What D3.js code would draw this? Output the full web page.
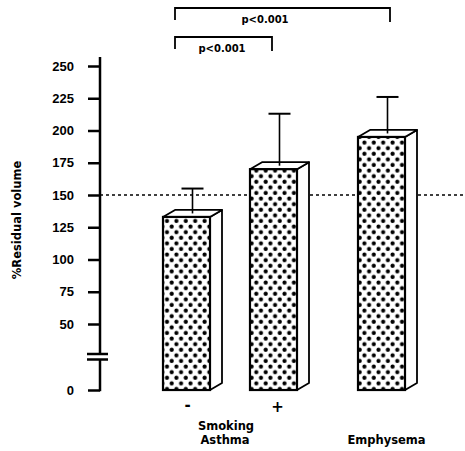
<!DOCTYPE html>
<html>
<head>
<meta charset="utf-8">
<script src="https://cdn.jsdelivr.net/npm/d3@7"></script>
<style>
  body { margin: 0; background: #fff; }
  svg { font-family: "DejaVu Sans", sans-serif; }
</style>
</head>
<body>
<div id="chart"></div>
<script>
var groups = ["-", "+", "Emphysema"];
var means = [133, 170, 195];
var upper = [155, 213, 226];
var yTicks = [0, 50, 75, 100, 125, 150, 175, 200, 225, 250];
var normalLine = 150;
var brackets = [
  { from: "-", to: "Emphysema", label: "p<0.001" },
  { from: "-", to: "+", label: "p<0.001" }
];

var width = 465, height = 451;

var svg = d3.select("#chart").append("svg")
    .attr("width", width)
    .attr("height", height);

var defs = svg.append("defs");
var pat = defs.append("pattern")
    .attr("id", "dots")
    .attr("patternUnits", "userSpaceOnUse")
    .attr("width", 9.4)
    .attr("height", 11.2);
pat.append("rect").attr("width", 9.4).attr("height", 11.2).attr("fill", "#fff");
pat.append("circle").attr("cx", 2.5).attr("cy", 2.5).attr("r", 2.1).attr("fill", "#000");
pat.append("circle").attr("cx", 7.2).attr("cy", 8.1).attr("r", 2.1).attr("fill", "#000");

// broken axis: 0..50 compressed
var y = d3.scaleLinear()
    .domain([0, 50, 250])
    .range([390, 324, 66]);

var x = d3.scaleOrdinal()
    .domain(groups)
    .range([163, 250, 358]);

var barW = 47, dx = 12, dy = -7;
var axisX = 100;

// dashed reference line
svg.append("line")
    .attr("x1", axisX).attr("x2", width)
    .attr("y1", y(normalLine)).attr("y2", y(normalLine))
    .attr("stroke", "#000")
    .attr("stroke-width", 1.3)
    .attr("stroke-dasharray", "3,3");

// y axis
var yAxis = d3.axisLeft(y)
    .tickValues(yTicks)
    .tickSize(12)
    .tickPadding(14);

var ga = svg.append("g")
    .attr("transform", "translate(" + axisX + ",0)")
    .call(yAxis);
ga.select(".domain").remove();
ga.selectAll(".tick line").attr("stroke", "#000").attr("stroke-width", 2.5);
ga.selectAll(".tick text")
    .attr("fill", "#000")
    .style("font-size", "13px")
    .style("font-weight", "bold");

var breakTop = 354, breakBot = 359.5;
ga.append("line")
    .attr("x1", 0).attr("x2", 0)
    .attr("y1", 57).attr("y2", breakTop)
    .attr("stroke", "#000").attr("stroke-width", 2.5);
ga.append("line")
    .attr("x1", 0).attr("x2", 0)
    .attr("y1", breakBot).attr("y2", y(0) + 1.2)
    .attr("stroke", "#000").attr("stroke-width", 2.5);
[breakTop, breakBot].forEach(function (b) {
  ga.append("line")
      .attr("x1", -13).attr("x2", 8)
      .attr("y1", b).attr("y2", b)
      .attr("stroke", "#000").attr("stroke-width", 2.5);
});

svg.append("text")
    .attr("transform", "translate(21,220) rotate(-90)")
    .attr("text-anchor", "middle")
    .style("font-size", "11.5px")
    .style("font-weight", "bold")
    .text("%Residual volume");

// bars
var bars = svg.selectAll("g.bar")
    .data(groups)
    .enter()
    .append("g")
    .attr("class", "bar");

bars.each(function (d, i) {
  var g = d3.select(this);
  var x0 = x(d), yt = y(means[i]), yb = y(0);

  // side face
  g.append("path")
      .attr("d", "M" + (x0 + barW) + "," + yt +
        "L" + (x0 + barW + dx) + "," + (yt + dy) +
        "L" + (x0 + barW + dx) + "," + (yb + dy) +
        "L" + (x0 + barW) + "," + yb + "Z")
      .attr("fill", "#fff").attr("stroke", "#000").attr("stroke-width", 1.8)
      .attr("stroke-linejoin", "round");
  // top face
  g.append("path")
      .attr("d", "M" + x0 + "," + yt +
        "L" + (x0 + dx) + "," + (yt + dy) +
        "L" + (x0 + barW + dx) + "," + (yt + dy) +
        "L" + (x0 + barW) + "," + yt + "Z")
      .attr("fill", "#fff").attr("stroke", "#000").attr("stroke-width", 1.8)
      .attr("stroke-linejoin", "round");
  // front face
  g.append("rect")
      .attr("x", x0).attr("y", yt)
      .attr("width", barW).attr("height", yb - yt)
      .attr("fill", "url(#dots)")
      .attr("stroke", "#000").attr("stroke-width", 2.2);

  // error bar from top face centre
  var cx = x0 + barW / 2 + dx / 2;
  var ye = y(upper[i]);
  g.append("line")
      .attr("x1", cx).attr("x2", cx)
      .attr("y1", yt + dy / 2).attr("y2", ye)
      .attr("stroke", "#000").attr("stroke-width", 1.6);
  g.append("line")
      .attr("x1", cx - 11).attr("x2", cx + 11)
      .attr("y1", ye).attr("y2", ye)
      .attr("stroke", "#000").attr("stroke-width", 2);
});

// category labels
svg.append("text").attr("x", x("-") + barW / 2 + 1).attr("y", 410)
    .attr("text-anchor", "middle").style("font-size", "15px").style("font-weight", "bold").text("-");
svg.append("text").attr("x", x("+") + barW / 2 + 4).attr("y", 412)
    .attr("text-anchor", "middle").style("font-size", "15px").style("font-weight", "bold").text("+");
svg.append("text").attr("x", 226).attr("y", 430)
    .attr("text-anchor", "middle").style("font-size", "11.5px").style("font-weight", "bold").text("Smoking");
svg.append("text").attr("x", 225).attr("y", 444)
    .attr("text-anchor", "middle").style("font-size", "11.5px").style("font-weight", "bold").text("Asthma");
svg.append("text").attr("x", x("Emphysema") + barW / 2 + 5).attr("y", 444)
    .attr("text-anchor", "middle").style("font-size", "11.5px").style("font-weight", "bold").text("Emphysema");

// significance brackets
var bracketY = [8, 37];
brackets.forEach(function (b, i) {
  var xa = x(b.from) + 12;
  var xb = i == 0 ? x(b.to) + barW - 15 : x(b.to) + 22;
  var by = bracketY[i];
  svg.append("path")
      .attr("d", "M" + xa + "," + (by + 12) + "L" + xa + "," + by +
        "L" + xb + "," + by + "L" + xb + "," + (by + 14))
      .attr("fill", "none").attr("stroke", "#000").attr("stroke-width", 1.8);
  svg.append("text")
      .attr("x", i == 0 ? 265 - 0 * xa : 222)
      .attr("y", by + 15)
      .attr("text-anchor", "middle")
      .style("font-size", "10px")
      .style("font-weight", "bold")
      .text(b.label);
});
</script>
</body>
</html>
